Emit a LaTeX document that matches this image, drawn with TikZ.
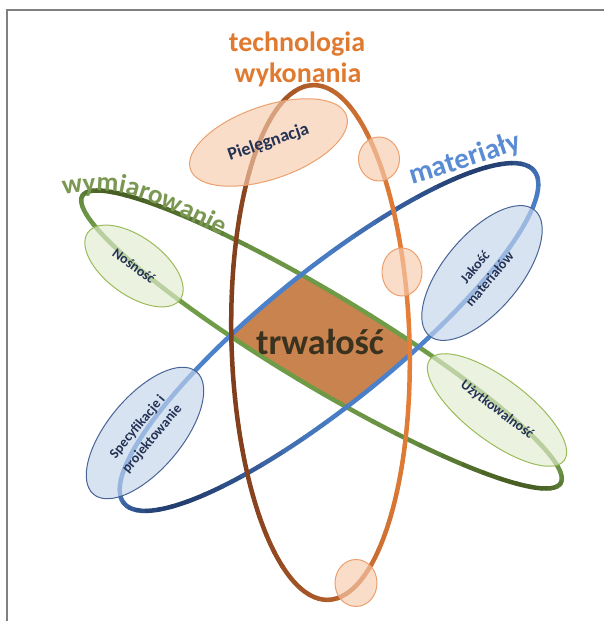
\documentclass[tikz,border=0pt]{standalone}
\usepackage{fontspec}
\setmainfont{Carlito}
\usepackage{tikz}
\usetikzlibrary{shapes.geometric, decorations.text}

\begin{document}
\begin{tikzpicture}[x=10pt, y=10pt,
        anneau/.style={line width=4.5pt, line cap=round},
        bulle/.style={ellipse, draw, line width=1pt, inner sep=0pt, fill opacity=0.65, text opacity=1, text=colTexte, align=center, font=\bfseries\fontsize{14}{19}\selectfont},
        bulleO/.style={bulle, draw=colOrBord, fill=colOrFond},
        bulleV/.style={bulle, draw=colVeBord, fill=colVeFond},
        bulleB/.style={bulle, draw=colBlBord, fill=colBlFond},
        titre/.style={font=\bfseries\fontsize{28}{30}\selectfont}]

        % Définition des couleurs
        \definecolor{colBrunF}{RGB}{128, 62, 28}
        \definecolor{colBrunC}{RGB}{228, 126, 56}
        \definecolor{colBleuF}{RGB}{36, 62, 112}
        \definecolor{colBleuC}{RGB}{76, 130, 204}
        \definecolor{colVertF}{RGB}{72, 94, 36}
        \definecolor{colVertC}{RGB}{112, 156, 72}
        \definecolor{colCoeur}{RGB}{201, 131, 78}
        \definecolor{colCoeurT}{RGB}{58, 50, 30}
        \definecolor{colTexte}{RGB}{36, 50, 84}
        \definecolor{colOrBord}{RGB}{236, 160, 110}
        \definecolor{colOrFond}{RGB}{248, 203, 173}
        \definecolor{colVeBord}{RGB}{155, 187, 89}
        \definecolor{colVeFond}{RGB}{226, 236, 208}
        \definecolor{colBlBord}{RGB}{72, 100, 150}
        \definecolor{colBlFond}{RGB}{196, 212, 236}
        \definecolor{colTitreO}{RGB}{224, 122, 48}
        \definecolor{colTitreV}{RGB}{122, 152, 82}
        \definecolor{colTitreB}{RGB}{90, 140, 212}

        % Cadre
        \useasboundingbox (0,0) rectangle (60.4,62.1);
        \fill[white] (0,0) rectangle (60.4,62.1);
        \draw[gray, line width=1.5pt] (0.7,0) -- (0.7,61.1) -- (60.4,61.1);

        % Coeur (intersection des anneaux)
        \begin{scope}
            \clip[shift={(32.9,28.4)}, rotate=39] (0,0) ellipse [x radius=26.4, y radius=6.6];
            \clip[shift={(32.15,28.15)}, rotate=-31] (0,0) ellipse [x radius=27.9, y radius=4.6];
            \fill[colCoeur, shift={(32.05,27.85)}, rotate=91.7] (0,0) ellipse [x radius=25.75, y radius=8.9];
        \end{scope}

        % Anneaux vert et bleu
        \foreach \cx/\cy/\rot/\ra/\rb/\dec/\cf/\cc in {
            32.15/28.15/-31/27.9/4.6/30/colVertF/colVertC,
            32.9/28.4/39/26.4/6.6/-30/colBleuF/colBleuC} {
            \begin{scope}[shift={(\cx,\cy)}, rotate=\rot]
                \foreach \t in {0,6,...,354} {
                    \pgfmathsetmacro{\m}{100*abs(cos(\t+\dec))^6}
                    \draw[anneau, color=\cf!\m!\cc] ({\ra*cos(\t)},{\rb*sin(\t)}) arc[start angle=\t, delta angle=6, x radius=\ra, y radius=\rb];
                }
            \end{scope}
        }

        % Anneau brun
        \begin{scope}[shift={(32.05,27.85)}, rotate=91.7]
            \foreach \t in {0,6,...,354} {
                \pgfmathsetmacro{\m}{50+50*sin(\t)}
                \draw[anneau, color=colBrunF!\m!colBrunC] ({25.75*cos(\t)},{8.9*sin(\t)}) arc[start angle=\t, delta angle=6, x radius=25.75, y radius=8.9];
            }
        \end{scope}

        \node[font=\bfseries\fontsize{36}{40}\selectfont, text=colCoeurT, anchor=base] (trwalosc) at (32.0,26.6) {trwałość};

        % Étiquettes des anneaux
        \node[titre, text=colTitreO, anchor=base] (techno) at (29.7,56.9) {technologia};
        \node[titre, text=colTitreO, anchor=base] (wykon) at (29.8,53.8) {wykonania};
        \path[decorate, decoration={text along path, text align=center,
            text={|\bfseries\fontsize{27}{30}\selectfont\color{colTitreV}|wymiarowanie}}]
            (4.4,42.26) .. controls (12.0,43.6) .. (23.9,37.7);
        \path[decorate, decoration={text along path, text align=center,
            text={|\bfseries\fontsize{29}{32}\selectfont\color{colTitreB}|materiały}}]
            (40.0,43.3) .. controls (46.0,45.1) .. (53.4,47.6);

        % Bulles
        \node[bulleO, rotate=19, minimum width=165pt, minimum height=73pt, font=\bfseries\fontsize{18}{20}\selectfont] (pieleg) at (26.85,47.85) {Pielęgnacja};
        \node[bulleO, minimum width=41pt, minimum height=44pt] (petitA) at (37.9,46.2) {};
        \node[bulleO, minimum width=40pt, minimum height=48pt] (petitB) at (40.2,34.9) {};
        \node[bulleO, minimum width=42pt, minimum height=47pt] (petitC) at (35.6,3.8) {};
        \node[bulleV, rotate=-36, minimum width=114pt, minimum height=58pt] (nosnosc) at (13.4,35.5) {Nośność};
        \node[bulleV, rotate=-37, minimum width=168pt, minimum height=62pt] (uzytk) at (49.7,21.1) {Użytkowalność};
        \node[bulleB, rotate=50, minimum width=164pt, minimum height=76pt] (jakosc) at (48.2,34.8) {Jakość\\materiałów};
        \node[bulleB, rotate=50, minimum width=160pt, minimum height=74pt] (specyf) at (14.5,18.8) {Specyfikacje i\\projektowanie};

\end{tikzpicture}
\end{document}
